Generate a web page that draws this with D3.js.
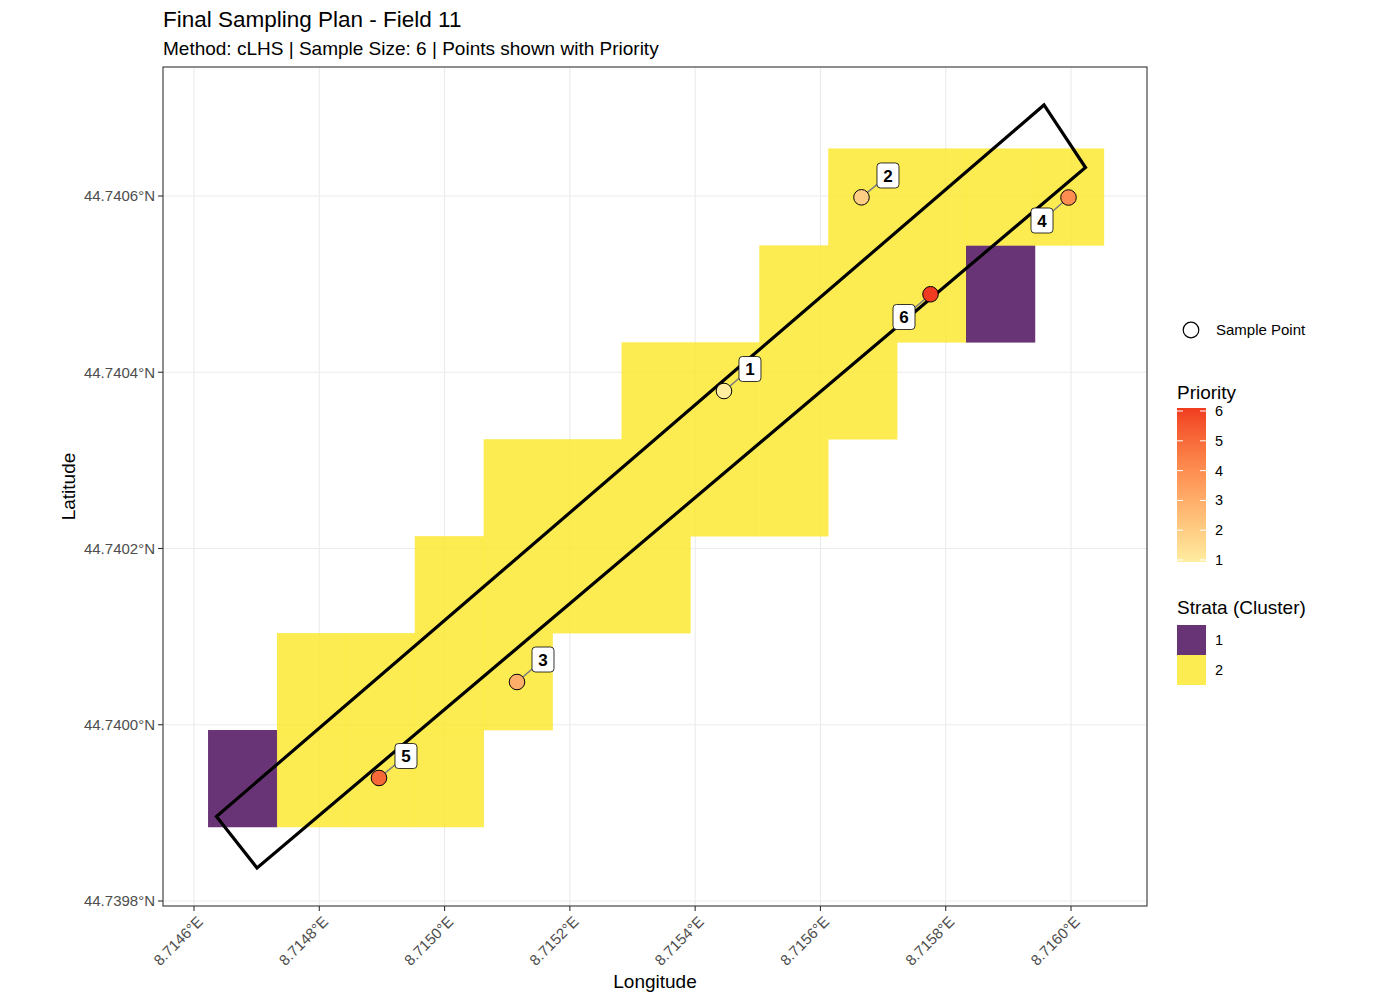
<!DOCTYPE html>
<html>
<head>
<meta charset="utf-8">
<script src="https://cdn.jsdelivr.net/npm/d3@7"></script>
<style>
  body { margin: 0; background: #fff; }
  text { font-family: "Liberation Sans", Arial, sans-serif; }
</style>
</head>
<body>
<div id="chart"></div>
<script>
// Raster of strata (cluster id per cell, 0 = no data), rows listed from south to north
var gridOrigin = [8.7146224, 44.7398840],   // lon, lat of lower-left corner
    gridRes = 0.00011;
var strataGrid = [
  [1,2,2,2,0,0,0,0,0,0,0,0,0],
  [0,2,2,2,2,0,0,0,0,0,0,0,0],
  [0,0,0,2,2,2,2,0,0,0,0,0,0],
  [0,0,0,0,2,2,2,2,2,0,0,0,0],
  [0,0,0,0,0,0,2,2,2,2,0,0,0],
  [0,0,0,0,0,0,0,0,2,2,2,1,0],
  [0,0,0,0,0,0,0,0,0,2,2,2,2]
];

// Field boundary
var fieldLon = [8.7146359, 8.7147006, 8.7160231, 8.7159569];
var fieldLat = [44.7398959, 44.7398374, 44.7406323, 44.7407033];

// Sample points, priority and repelled label positions
var priority = [1, 2, 3, 4, 5, 6];
var pointLon = [8.7154460, 8.7156655, 8.7151156, 8.7159960, 8.7148953, 8.7157757];
var pointLat = [44.7403787, 44.7405985, 44.7400485, 44.7405983, 44.7399396, 44.7404885];
var labelLon = [8.7154875, 8.7157078, 8.7151571, 8.7159537, 8.7149384, 8.7157334];
var labelLat = [44.7404037, 44.7406233, 44.7400740, 44.7405722, 44.7399645, 44.7404627];

var lonTicks = [8.7146, 8.7148, 8.7150, 8.7152, 8.7154, 8.7156, 8.7158, 8.7160];
var latTicks = [44.7398, 44.7400, 44.7402, 44.7404, 44.7406];
var strataLevels = [1, 2];
var priorityBreaks = [1, 2, 3, 4, 5, 6];

// Layout
var width = 1377, height = 1001;
var panel = { left: 163, right: 1147, top: 67, bottom: 906 };

var svg = d3.select("#chart").append("svg")
  .attr("width", width)
  .attr("height", height)
  .style("background", "#fff");

var x = d3.scaleLinear()
  .domain([8.7145505, 8.7161213])
  .range([panel.left, panel.right]);
var y = d3.scaleLinear()
  .domain([44.7397943, 44.7407464])
  .range([panel.bottom, panel.top]);

var strataColor = d3.scaleOrdinal()
  .domain(strataLevels)
  .range(["#440154", "#FDE725"]);
var priorityColor = d3.scaleLinear()
  .domain([1, 6])
  .range(["#FFEDA0", "#F03B20"])
  .interpolate(d3.interpolateLab);

// Titles
svg.append("text")
  .attr("x", panel.left).attr("y", 27)
  .style("font-size", "22.5px")
  .text("Final Sampling Plan - Field 11");
svg.append("text")
  .attr("x", panel.left).attr("y", 55)
  .style("font-size", "19px")
  .text("Method: cLHS | Sample Size: 6 | Points shown with Priority");

// Grid lines
var grid = svg.append("g");
grid.selectAll(".vgrid").data(lonTicks).enter().append("line")
  .attr("x1", d => x(d)).attr("x2", d => x(d))
  .attr("y1", panel.top).attr("y2", panel.bottom)
  .attr("stroke", "#EBEBEB").attr("stroke-width", 1.1);
grid.selectAll(".hgrid").data(latTicks).enter().append("line")
  .attr("y1", d => y(d)).attr("y2", d => y(d))
  .attr("x1", panel.left).attr("x2", panel.right)
  .attr("stroke", "#EBEBEB").attr("stroke-width", 1.1);

// Raster cells
var cells = [];
strataGrid.forEach(function(row, r) {
  row.forEach(function(v, c) {
    if (v) cells.push({ r: r, c: c, v: v });
  });
});
svg.append("g").selectAll("rect").data(cells).enter().append("rect")
  .attr("x", d => x(gridOrigin[0] + d.c * gridRes))
  .attr("y", d => y(gridOrigin[1] + (d.r + 1) * gridRes))
  .attr("width", d => x(gridOrigin[0] + (d.c + 1) * gridRes) - x(gridOrigin[0] + d.c * gridRes) + 0.3)
  .attr("height", d => y(gridOrigin[1] + d.r * gridRes) - y(gridOrigin[1] + (d.r + 1) * gridRes) + 0.3)
  .attr("fill", d => strataColor(d.v))
  .attr("fill-opacity", 0.8);

// Field boundary
var fieldPts = fieldLon.map((d, i) => [x(d), y(fieldLat[i])]);
svg.append("path")
  .attr("d", "M" + fieldPts.join("L") + "Z")
  .attr("fill", "none")
  .attr("stroke", "#000")
  .attr("stroke-width", 3.2)
  .attr("stroke-linejoin", "miter");

// Sample points with repelled labels
var samples = priority.map((p, i) => ({
  p: p, lon: pointLon[i], lat: pointLat[i], llon: labelLon[i], llat: labelLat[i]
}));

svg.append("g").selectAll("line").data(samples).enter().append("line")
  .attr("x1", d => x(d.lon)).attr("y1", d => y(d.lat))
  .attr("x2", d => x(d.llon)).attr("y2", d => y(d.llat))
  .attr("stroke", "#7f7f7f").attr("stroke-width", 1.6);

svg.append("g").selectAll("circle").data(samples).enter().append("circle")
  .attr("cx", d => x(d.lon)).attr("cy", d => y(d.lat))
  .attr("r", 7.8)
  .attr("fill", d => priorityColor(d.p))
  .attr("stroke", "#000").attr("stroke-width", 1);

var labs = svg.append("g").selectAll("g").data(samples).enter().append("g")
  .attr("transform", d => "translate(" + x(d.llon) + "," + y(d.llat) + ")");
labs.append("rect")
  .attr("x", -11).attr("y", -12.5)
  .attr("width", 22).attr("height", 25)
  .attr("rx", 3.5)
  .attr("fill", "#fff")
  .attr("stroke", "#000").attr("stroke-width", 0.8);
labs.append("text")
  .attr("text-anchor", "middle")
  .attr("dy", "0.36em")
  .style("font-size", "17px")
  .style("font-weight", "bold")
  .text(d => d.p);

// Panel border
svg.append("rect")
  .attr("x", panel.left).attr("y", panel.top)
  .attr("width", panel.right - panel.left)
  .attr("height", panel.bottom - panel.top)
  .attr("fill", "none")
  .attr("stroke", "#333").attr("stroke-width", 1.1);

// Axes
var xAxis = svg.append("g");
xAxis.selectAll("line").data(lonTicks).enter().append("line")
  .attr("x1", d => x(d)).attr("x2", d => x(d))
  .attr("y1", panel.bottom).attr("y2", panel.bottom + 5)
  .attr("stroke", "#333").attr("stroke-width", 1.1);
xAxis.selectAll("text").data(lonTicks).enter().append("text")
  .attr("transform", d => "translate(" + (x(d) + 6) + "," + (panel.bottom + 13) + ") rotate(-45)")
  .attr("text-anchor", "end")
  .attr("dy", "0.35em")
  .style("font-size", "15px")
  .style("fill", "#4D4D4D")
  .text(d => d3.format(".4f")(d) + "°E");

var yAxis = svg.append("g");
yAxis.selectAll("line").data(latTicks).enter().append("line")
  .attr("y1", d => y(d)).attr("y2", d => y(d))
  .attr("x1", panel.left - 5).attr("x2", panel.left)
  .attr("stroke", "#333").attr("stroke-width", 1.1);
yAxis.selectAll("text").data(latTicks).enter().append("text")
  .attr("x", panel.left - 8)
  .attr("y", d => y(d))
  .attr("dy", "0.35em")
  .attr("text-anchor", "end")
  .style("font-size", "15px")
  .style("fill", "#4D4D4D")
  .text(d => d3.format(".4f")(d) + "°N");

svg.append("text")
  .attr("x", (panel.left + panel.right) / 2).attr("y", 988)
  .attr("text-anchor", "middle")
  .style("font-size", "19px")
  .text("Longitude");
svg.append("text")
  .attr("transform", "translate(75," + ((panel.top + panel.bottom) / 2) + ") rotate(-90)")
  .attr("text-anchor", "middle")
  .style("font-size", "19px")
  .text("Latitude");

// Legends
var leg = svg.append("g");
leg.append("circle")
  .attr("cx", 1191).attr("cy", 330).attr("r", 7.8)
  .attr("fill", "none").attr("stroke", "#000").attr("stroke-width", 1.2);
leg.append("text")
  .attr("x", 1216).attr("y", 330).attr("dy", "0.35em")
  .style("font-size", "15px")
  .text("Sample Point");

leg.append("text")
  .attr("x", 1177).attr("y", 399)
  .style("font-size", "19px")
  .text("Priority");

var barTop = 408, barBottom = 562, barLeft = 1177, barW = 29;
var pb = d3.scaleLinear().domain([1, 6]).range([barBottom - 2, barTop + 3]);
var grad = svg.append("defs").append("linearGradient")
  .attr("id", "prio").attr("x1", 0).attr("y1", 1).attr("x2", 0).attr("y2", 0);
d3.range(0, 1.0001, 0.1).forEach(function(t) {
  grad.append("stop")
    .attr("offset", t)
    .attr("stop-color", priorityColor(1 + 5 * t));
});
leg.append("rect")
  .attr("x", barLeft).attr("y", barTop)
  .attr("width", barW).attr("height", barBottom - barTop)
  .attr("fill", "url(#prio)");
priorityBreaks.forEach(function(b) {
  leg.append("line")
    .attr("x1", barLeft).attr("x2", barLeft + 6)
    .attr("y1", pb(b)).attr("y2", pb(b))
    .attr("stroke", "#fff").attr("stroke-width", 1);
  leg.append("line")
    .attr("x1", barLeft + barW - 6).attr("x2", barLeft + barW)
    .attr("y1", pb(b)).attr("y2", pb(b))
    .attr("stroke", "#fff").attr("stroke-width", 1);
});
leg.selectAll(".pl").data(priorityBreaks).enter().append("text")
  .attr("x", 1215).attr("y", d => pb(d)).attr("dy", "0.35em")
  .style("font-size", "14.5px")
  .text(d => d);

leg.append("text")
  .attr("x", 1177).attr("y", 614)
  .style("font-size", "19px")
  .text("Strata (Cluster)");
leg.selectAll(".sk").data(strataLevels).enter().append("rect")
  .attr("x", barLeft).attr("y", (d, i) => 625 + i * 30)
  .attr("width", barW).attr("height", 30)
  .attr("fill", d => strataColor(d))
  .attr("fill-opacity", 0.8);
leg.selectAll(".sl").data(strataLevels).enter().append("text")
  .attr("x", 1215).attr("y", (d, i) => 640 + i * 30).attr("dy", "0.35em")
  .style("font-size", "14.5px")
  .text(d => d);
</script>
</body>
</html>
